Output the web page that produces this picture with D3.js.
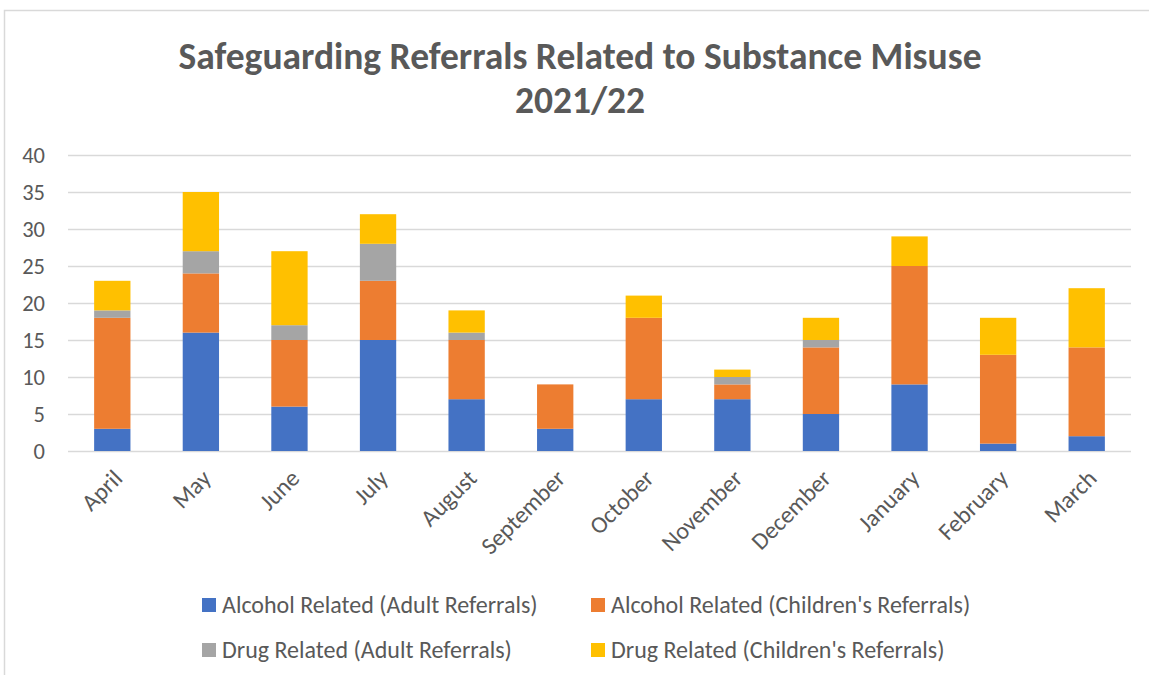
<!DOCTYPE html>
<html>
<head>
<meta charset="utf-8">
<script src="https://cdn.jsdelivr.net/npm/d3@7"></script>
<style>
  body { margin: 0; background: #fff; }
  text { font-family: Carlito, Calibri, Lato, "Open Sans", sans-serif; fill: #595959; }
</style>
</head>
<body>
<div id="chart"></div>
<script>
var months = ["April", "May", "June", "July", "August", "September", "October",
    "November", "December", "January", "February", "March"];

var seriesNames = ["Alcohol Related (Adult Referrals)", "Alcohol Related (Children's Referrals)",
    "Drug Related (Adult Referrals)", "Drug Related (Children's Referrals)"];

var colors = ["#4472c4", "#ed7d31", "#a5a5a5", "#ffc000"];

var alcoholAdult = [3, 16, 6, 15, 7, 3, 7, 7, 5, 9, 1, 2];
var alcoholChildren = [15, 8, 9, 8, 8, 6, 11, 2, 9, 16, 12, 12];
var drugAdult = [1, 3, 2, 5, 1, 0, 0, 1, 1, 0, 0, 0];
var drugChildren = [4, 8, 10, 4, 3, 0, 3, 1, 3, 4, 5, 8];

var yTicks = [0, 5, 10, 15, 20, 25, 30, 35, 40];

var W = 1149, H = 675;
var margin = {left: 68, right: 18, top: 155, bottom: 224};
var width = W - margin.left - margin.right;
var height = H - margin.top - margin.bottom;

var rows = months.map(function (m, i) {
    return {
        label: m,
        s0: alcoholAdult[i],
        s1: alcoholChildren[i],
        s2: drugAdult[i],
        s3: drugChildren[i]
    };
});

var stack = d3.stack().keys(["s0", "s1", "s2", "s3"]);
var stacked = stack(rows);

var svg = d3.select("#chart").append("svg")
    .attr("width", W)
    .attr("height", H);

// chart frame
svg.append("rect")
    .attr("x", 4.5).attr("y", 10.5)
    .attr("width", W + 10).attr("height", H + 10)
    .attr("fill", "none")
    .attr("stroke", "#d9d9d9")
    .attr("stroke-width", 1.5);

svg.append("text")
    .attr("x", 580).attr("y", 69)
    .attr("text-anchor", "middle")
    .style("font-size", "37.5px")
    .style("font-weight", "bold")
    .text("Safeguarding Referrals Related to Substance Misuse");

svg.append("text")
    .attr("x", 580).attr("y", 113)
    .attr("text-anchor", "middle")
    .style("font-size", "37.5px")
    .style("font-weight", "bold")
    .text("2021/22");

var g = svg.append("g")
    .attr("transform", "translate(" + margin.left + "," + margin.top + ")");

var xScale = d3.scaleBand().domain(months).range([0, width]).paddingInner(0.59).paddingOuter(0.295);
var yScale = d3.scaleLinear().domain([0, 40]).range([height, 0]);

// gridlines
g.append("g")
    .attr("class", "grid")
    .call(d3.axisLeft(yScale).tickValues(yTicks).tickSize(-width).tickFormat(""))
    .call(function (sel) {
        sel.select(".domain").remove();
        sel.selectAll("line").attr("stroke", "#d9d9d9").attr("stroke-width", 1.5);
    });

// bars
g.selectAll(".series")
    .data(stacked)
    .enter()
    .append("g")
    .attr("class", "series")
    .attr("fill", function (d, i) {
        return colors[i];
    })
    .selectAll("rect")
    .data(function (d) {
        return d;
    })
    .enter()
    .append("rect")
    .attr("x", function (d) {
        return xScale(d.data.label);
    })
    .attr("y", function (d) {
        return yScale(d[1]);
    })
    .attr("height", function (d) {
        return yScale(d[0]) - yScale(d[1]);
    })
    .attr("width", xScale.bandwidth());

// y axis labels
g.append("g")
    .call(d3.axisLeft(yScale).tickValues(yTicks).tickSize(0).tickPadding(23))
    .call(function (sel) {
        sel.select(".domain").remove();
        sel.selectAll("text")
            .attr("fill", "#595959")
            .style("font-size", "22.5px")
            .style("font-family", "Carlito, Calibri, Lato, sans-serif");
    });

// x axis labels
g.append("g")
    .attr("transform", "translate(0," + height + ")")
    .call(d3.axisBottom(xScale).tickSize(0).tickPadding(0))
    .call(function (sel) {
        sel.select(".domain").remove();
        sel.selectAll("text")
            .attr("fill", "#595959")
            .style("font-size", "24px")
            .style("font-family", "Carlito, Calibri, Lato, sans-serif")
            .style("text-anchor", "end")
            .attr("dx", "-0.1em")
            .attr("dy", "0.6em")
            .attr("transform", "translate(3,17) rotate(-45)");
    });

// legend
var legendPos = [[202, 605], [591, 605], [202, 650], [591, 650]];
var legend = svg.selectAll(".legend")
    .data(seriesNames)
    .enter()
    .append("g")
    .attr("class", "legend")
    .attr("transform", function (d, i) {
        return "translate(" + legendPos[i][0] + "," + legendPos[i][1] + ")";
    });

legend.append("rect")
    .attr("x", 0).attr("y", -7)
    .attr("width", 14).attr("height", 14)
    .attr("fill", function (d, i) {
        return colors[i];
    });

legend.append("text")
    .attr("x", 20).attr("y", 0)
    .attr("dy", "0.35em")
    .style("font-size", "24px")
    .text(function (d) {
        return d;
    });
</script>
</body>
</html>
